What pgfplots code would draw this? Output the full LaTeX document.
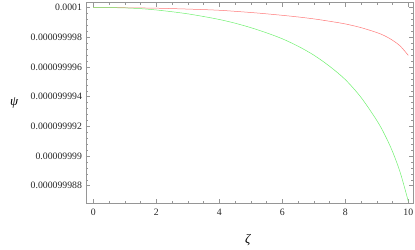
\documentclass[border=0pt]{standalone}
\usepackage{fontspec}
\setmainfont{Liberation Serif}
\usepackage{pgfplots}
\pgfplotsset{compat=1.18}
\definecolor{mred}{RGB}{255,120,120}
\definecolor{mgreen}{RGB}{110,240,110}
\definecolor{frame}{RGB}{150,150,150}
\begin{document}
\begin{tikzpicture}
\begin{axis}[
  scale only axis,
  width=327bp, height=200.5bp,
  at={(0,0)}, anchor=south west,
  xmin=-0.23, xmax=10.15,
  ymin=-13.18, ymax=0.33,
  xtick={0,2,4,6,8,10},
  xticklabels={0,2,4,6,8,10},
  ytick={-12,-10,-8,-6,-4,-2,0},
  yticklabels={0.000099988,0.00009999,0.000099992,0.000099994,0.000099996,0.000099998,0.0001},
  minor x tick num=3,
  minor y tick num=4,
  tick align=inside,
  major tick length=4bp,
  minor tick length=2.2bp,
  axis line style={frame},
  every tick/.style={frame},
  tick label style={font=\fontsize{9.8}{11}\selectfont, text=black!85},
  xticklabel style={yshift=-2bp},
  yticklabel style={xshift=-0.5bp},
  xlabel={\fontsize{13}{14}\selectfont\itshape ζ},
  ylabel={\fontsize{13}{14}\selectfont\itshape ψ},
  xlabel style={at={(axis description cs:0.495,-0.185)}, anchor=center},
  ylabel style={at={(axis description cs:-0.22,0.5)}, anchor=center, rotate=-90},
  clip=true,
]
\addplot[mred, line width=0.5pt, smooth] coordinates {
(0,0) (1,-0.01) (2,-0.04) (3,-0.1) (4,-0.18) (5,-0.33) (5.5,-0.42) (6,-0.52) (6.5,-0.63) (7,-0.76) (7.5,-0.92) (8,-1.1) (8.5,-1.35) (9,-1.68) (9.25,-1.9) (9.5,-2.2) (9.75,-2.6) (10,-3.22)
};
\addplot[mgreen, line width=0.5pt, smooth] coordinates {
(0,0) (0.5,-0.005) (1,-0.02) (1.5,-0.07) (2,-0.16) (2.5,-0.28) (3,-0.42) (3.5,-0.6) (4,-0.8) (4.5,-1.05) (5,-1.35) (5.5,-1.7) (6,-2.1) (6.5,-2.6) (7,-3.2) (7.5,-3.95) (8,-4.85) (8.5,-6.05) (9,-7.6) (9.25,-8.55) (9.5,-9.7) (9.75,-11.15) (10,-13.05)
};
\end{axis}
\pgfresetboundingbox
\path (-86bp,-46bp) rectangle (329bp,203.2bp);
\end{tikzpicture}
\end{document}
